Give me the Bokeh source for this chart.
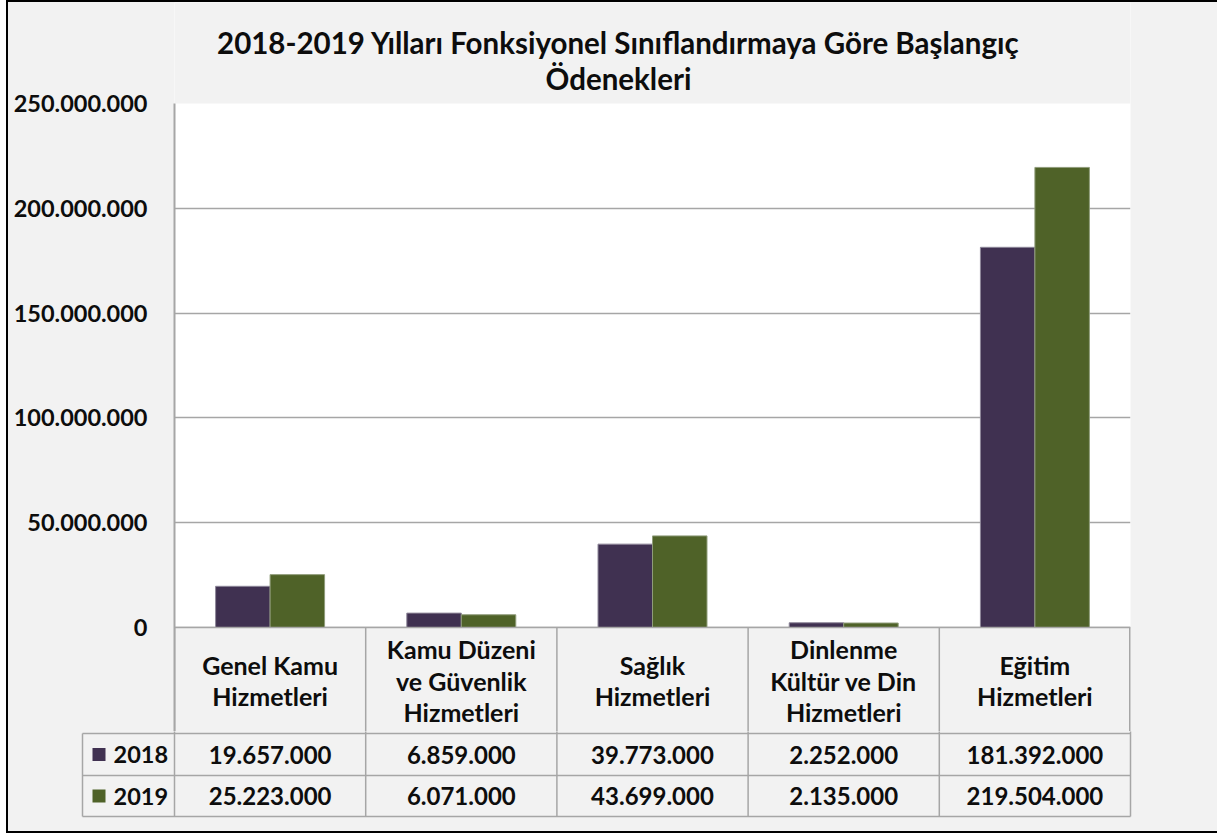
from bokeh.plotting import figure
from bokeh.layouts import column
from bokeh.models import Range1d, FactorRange, FixedTicker, ColumnDataSource, BoxAnnotation, Span
from bokeh.transform import dodge
from bokeh.core.properties import value
from bokeh.embed import file_html
from bokeh.resources import INLINE

# ---------------- data ----------------
categories = ["Genel Kamu Hizmetleri", "Kamu Düzeni ve Güvenlik Hizmetleri",
              "Sağlık Hizmetleri", "Dinlenme Kültür ve Din Hizmetleri", "Eğitim Hizmetleri"]
header_labels = ["Genel Kamu\nHizmetleri", "Kamu Düzeni\nve Güvenlik\nHizmetleri",
                 "Sağlık\nHizmetleri", "Dinlenme\nKültür ve Din\nHizmetleri", "Eğitim\nHizmetleri"]
series_names = ["2018", "2019"]
values_2018 = [19657000, 6859000, 39773000, 2252000, 181392000]
values_2019 = [25223000, 6071000, 43699000, 2135000, 219504000]
y_ticks = [0, 50000000, 100000000, 150000000, 200000000, 250000000]
y_tick_labels = ["0", "50.000.000", "100.000.000", "150.000.000", "200.000.000", "250.000.000"]
title_lines = ["2018-2019 Yılları Fonksiyonel Sınıflandırmaya Göre Başlangıç", "Ödenekleri"]

# ---------------- style ----------------
C2018 = "#403151"
C2019 = "#4F6228"
BG = "#F2F2F2"
GRID = "#A6A6A6"
FONT = "Lato"
TXT = "#0D0D0D"


def fmt(v):
    return f"{v:,}".replace(",", ".")


W = 1209            # figure width (interior of the framed chart)
U = 956 / 5         # px per category
PLOT_PX = 524       # px of the 0..250M value span
HDR, R1, R2 = 106, 148, 189   # table row bottoms, px below the zero line
STRIP = 104         # px of the table header band drawn inside the plot frame (below 0)
TOPPX = 101         # px of the title band drawn inside the plot frame (above 250M)
YMAX = 250000000
PXV = YMAX / PLOT_PX
YMIN = -STRIP * PXV
YTOP = YMAX + TOPPX * PXV

# ---------------- bars, title, header row ----------------
src = ColumnDataSource(dict(cat=categories, y2018=values_2018, y2019=values_2019))

p = figure(width=W, height=TOPPX + PLOT_PX + STRIP, x_range=FactorRange(*categories, range_padding=0),
           y_range=Range1d(YMIN, YTOP), output_backend="svg", toolbar_location=None,
           frame_align=False,
           min_border_left=166, min_border_right=87, min_border_top=0, min_border_bottom=0,
           background_fill_color="white", border_fill_color=BG, outline_line_color=None)
p.xaxis.visible = False
p.xgrid.visible = False
p.ygrid.ticker = FixedTicker(ticks=y_ticks[:-1])
p.ygrid.grid_line_color = GRID
p.ygrid.grid_line_width = 1.5
p.yaxis.ticker = FixedTicker(ticks=y_ticks)
p.yaxis.bounds = (YMIN, YMAX)
p.yaxis.major_label_overrides = {t: l for t, l in zip(y_ticks, y_tick_labels)}
p.yaxis.axis_line_color = GRID
p.yaxis.axis_line_width = 2
p.yaxis.major_tick_line_color = None
p.yaxis.major_tick_out = 0
p.yaxis.major_tick_in = 0
p.yaxis.minor_tick_line_color = None
p.yaxis.major_label_standoff = 27
p.yaxis.major_label_text_font = FONT
p.yaxis.major_label_text_font_style = "bold"
p.yaxis.major_label_text_font_size = "23.5px"
p.yaxis.major_label_text_color = TXT

# chart-area background outside the plot area (title band and table header band)
p.add_layout(BoxAnnotation(top=0, fill_color=BG, fill_alpha=1, line_color=None, level="underlay"))
p.add_layout(BoxAnnotation(bottom=YMAX, fill_color=BG, fill_alpha=1, line_color=None, level="underlay"))

bw = 0.285
p.vbar(x=dodge("cat", -bw / 2, range=p.x_range), top="y2018", width=bw, source=src,
       fill_color=C2018, line_color="#8E8799", line_width=1)
p.vbar(x=dodge("cat", bw / 2, range=p.x_range), top="y2019", width=bw, source=src,
       fill_color=C2019, line_color="#8F9C7A", line_width=1)

# header-row cell borders
p.segment(x0=dodge("cat", -0.5, range=p.x_range), y0=YMIN,
          x1=dodge("cat", -0.5, range=p.x_range), y1=0, source=src,
          line_color=GRID, line_width=1.5)
last = ColumnDataSource(dict(cat=categories[-1:]))
p.segment(x0=dodge("cat", 0.5, range=p.x_range), y0=YMIN,
          x1=dodge("cat", 0.5, range=p.x_range), y1=0, source=last,
          line_color=GRID, line_width=3)
p.add_layout(Span(location=0, dimension="width", line_color=GRID, line_width=1.5))

# header-row category labels
hx, hy, ht = [], [], []
for cat, lab in zip(categories, header_labels):
    lines = lab.split("\n")
    n = len(lines)
    for j, ln in enumerate(lines):
        hx.append(cat)
        hy.append(-(HDR / 2 + (j - (n - 1) / 2) * 31.5) * PXV)
        ht.append(ln)
p.text(x=hx, y=hy, text=ht, text_align="center", text_baseline="middle",
       text_font=value(FONT), text_font_style="bold", text_font_size="25px", text_color=TXT)

# title (page y of cap centres: 42 and 78; top of value area at page 103)
title_x = (618 - 174) / U
title_y = [YMAX + (103 - 42) * PXV, YMAX + (103 - 78) * PXV]
p.text(x=[title_x, title_x], y=title_y, text=title_lines, text_align="center",
       text_baseline="middle", text_font=value(FONT), text_font_style="bold",
       text_font_size="29.5px", text_color=TXT)

# ---------------- data table rows ----------------
LEG = 92 / U
PADX = 2 / U
t = figure(width=W, height=100, x_range=Range1d(-LEG - PADX, 5 + PADX), y_range=Range1d(191, STRIP),
           output_backend="svg", toolbar_location=None, frame_align=False,
           min_border_left=72, min_border_right=85, min_border_top=0, min_border_bottom=13,
           background_fill_color=BG, border_fill_color=BG, outline_line_color=None)
t.axis.visible = False
t.grid.visible = False

xs, ys = [], []
for yy in (HDR, R1, R2):
    xs.append([-LEG, 5]); ys.append([yy, yy])
xs.append([-LEG, -LEG]); ys.append([HDR, R2])
for i in range(6):
    xs.append([i, i]); ys.append([0, R2])
t.multi_line(xs=xs, ys=ys, line_color=GRID, line_width=1.5)

row_centers = [(HDR + R1) / 2, (R1 + R2) / 2]
vx, vy, vt = [], [], []
for r, vals in enumerate([values_2018, values_2019]):
    for i, v in enumerate(vals):
        vx.append(i + 0.5); vy.append(row_centers[r]); vt.append(fmt(v))
t.text(x=vx, y=vy, text=vt, text_align="center", text_baseline="middle",
       text_font=value(FONT), text_font_style="bold", text_font_size="24px", text_color=TXT)

t.scatter(x=[-LEG + 16.5 / U] * 2, y=row_centers, marker="square", size=13,
          fill_color=[C2018, C2019], line_color=None)
t.text(x=[-LEG + 31 / U] * 2, y=row_centers, text=series_names, text_align="left",
       text_baseline="middle", text_font=value(FONT), text_font_style="bold",
       text_font_size="23.5px", text_color=TXT)

layout = column(p, t, spacing=0,
                styles={"margin-left": "6px",
                        "border-left": "2px solid #000", "border-top": "2px solid #000",
                        "border-bottom": "2px solid #000", "background-color": BG})

open("out.html", "w").write(file_html(layout, INLINE))
